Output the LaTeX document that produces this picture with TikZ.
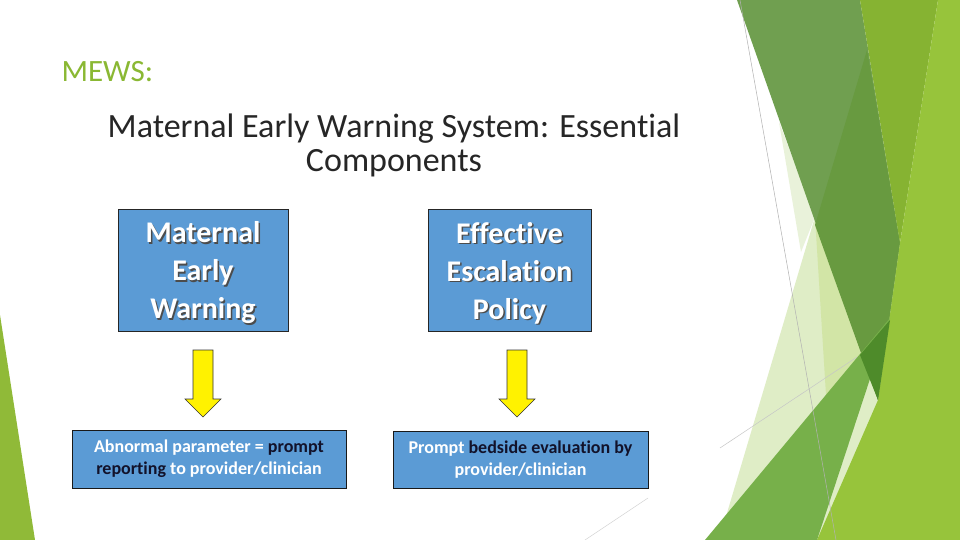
\documentclass[tikz,border=0pt]{standalone}
\usepackage{fontspec}
\setmainfont{Carlito}[Ligatures=NoCommon]
\definecolor{titlegreen}{HTML}{8AB833}
\definecolor{boxblue}{HTML}{5B9BD5}
\definecolor{darktext}{HTML}{12122A}
\definecolor{palegreen}{HTML}{DFEDC6}
\definecolor{palesliver}{HTML}{E9F2DA}
\definecolor{olivepale}{HTML}{D2E5A6}
\definecolor{bandgreen}{HTML}{77B04A}
\definecolor{lightgreen}{HTML}{97C43B}
\definecolor{yellowgreen}{HTML}{86B332}
\definecolor{leafgreen}{HTML}{709F50}
\definecolor{deepgreen}{HTML}{689A40}
\definecolor{darkestgreen}{HTML}{4E8B2A}

\begin{document}
\begin{tikzpicture}[x=1pt, y=-1pt,
  headbox/.style={draw=black!85, line width=0.8pt, fill=boxblue, minimum height=122pt, inner sep=0pt},
  headtext/.style={text=white, font=\fontsize{30}{38}\selectfont\bfseries, align=center},
  headshadow/.style={text=black!70, font=\fontsize{30}{38}\selectfont\bfseries, align=center},
  footbox/.style={draw=black!90, line width=0.8pt, fill=boxblue, text=white, align=center, inner sep=0pt,
    font=\fontsize{18}{22}\selectfont\bfseries},
  downblock/.pic={\draw[draw=black!80, fill=yellow, line width=0.6pt]
    (-10,0) -- (10,0) -- (10,49) -- (18,49) -- (0,67) -- (-18,49) -- (-10,49) -- cycle;}]
  \useasboundingbox (0,0) rectangle (960,540);
  \fill[white] (0,0) rectangle (960,540);
  \fill[lightgreen!95!black] (0,315) -- (0,540) -- (35,540) -- cycle;
  \fill[palegreen] (815,217) -- (880,400) -- (960,300) -- (960,540) -- (719,540) -- cycle;
  \fill[palesliver] (779,122) -- (815,217) -- (801,252) -- cycle;
  \fill[olivepale] (815,217) -- (870,365) -- (826,395) -- cycle;
  \draw[gray!45, line width=0.5pt] (720,448) -- (857,357);
  \draw[gray!35, line width=0.5pt] (585,540) -- (648,498);
  \fill[leafgreen] (737,0) -- (860,0) -- (900,243) -- (878,400) -- cycle;
  \fill[deepgreen] (867,50) -- (900,243) -- (878,400) -- (815,225) -- cycle;
  \fill[yellowgreen] (860,0) -- (938,0) -- (900,243) -- cycle;
  \fill[lightgreen] (938,0) -- (960,0) -- (960,540) -- (817,540) -- (878,400) -- (900,243) -- cycle;
  \fill[bandgreen] (705,540) -- (890,318) -- (817,540) -- cycle;
  \fill[darkestgreen] (860,355) -- (890,320) -- (878,400) -- cycle;
  \draw[gray!60, line width=0.5pt] (740,0) -- (836,540);
  \node[anchor=base west, text=titlegreen, font=\fontsize{31}{36}\selectfont] (mews) at (58,82) {MEWS:};
  \node[anchor=north, inner sep=0pt, text=black!85, align=center, font=\fontsize{34}{34}\selectfont] (subtitle)
    at (394,114) {Maternal Early Warning System: Essential\\Components};
  \node[headbox, minimum width=170pt] (warnbox) at (203,270) {};
  \node[headshadow] (warnshadow) at (204.5,274.5) {Maternal\\Early\\Warning};
  \node[headtext] (warntext) at (203,273) {Maternal\\Early\\Warning};
  \node[headbox, minimum width=163pt] (escbox) at (509.5,270) {};
  \node[headshadow] (escshadow) at (511,274.5) {Effective\\Escalation\\Policy};
  \node[headtext] (esctext) at (509.5,273) {Effective\\Escalation\\Policy};
  \pic at (203,350) {downblock};
  \pic at (517,350) {downblock};
  \node[footbox, minimum width=274pt, minimum height=58pt] (abnbox) at (209,459)
    {Abnormal parameter = \textcolor{darktext}{prompt}\\\textcolor{darktext}{reporting} to provider/clinician};
  \node[footbox, minimum width=255pt, minimum height=57pt] (bedbox) at (520.5,459.5)
    {Prompt \textcolor{darktext}{bedside evaluation by}\\provider/clinician};
\end{tikzpicture}
\end{document}
